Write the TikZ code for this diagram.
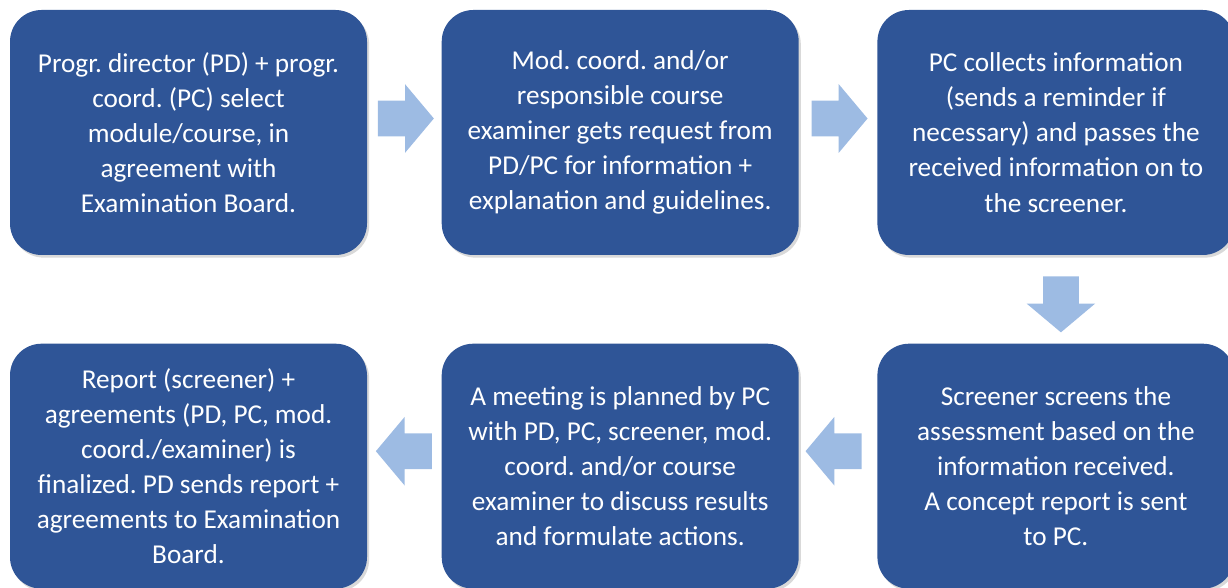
\documentclass[tikz,border=0pt]{standalone}
\usepackage{fontspec}
\setmainfont{Carlito}
\usepackage{xcolor}
\usetikzlibrary{positioning,calc,shapes.arrows,shadows}
\definecolor{boxblue}{RGB}{47,85,151}
\definecolor{arrblue}{RGB}{157,187,227}
\frenchspacing
\tikzset{
  stepbox/.style={draw=none, fill=boxblue, rounded corners=18pt, text=white, align=center,
    minimum width=7.14cm, minimum height=4.9cm, inner sep=0pt,
    font=\fontsize{15.5pt}{20pt}\selectfont,
    drop shadow={shadow xshift=1.2pt, shadow yshift=-1.5pt, opacity=0.3}},
  blockarr/.style={single arrow, draw=none, fill=arrblue, inner xsep=0pt, inner ysep=0.35cm,
    minimum height=1.12cm,
    single arrow head extend=0.33cm, single arrow tip angle=100},
}
\begin{document}
\begin{tikzpicture}
\useasboundingbox (0,0) rectangle (24.56,-11.76);
% upper row
\node[stepbox] (s1) at (3.77,-2.65) {Progr. director (PD) + progr.\\coord. (PC) select\\module/course, in\\agreement with\\Examination Board.};
\node[stepbox, right=1.48cm of s1] (s2) {Mod. coord. and/or\\responsible course\\examiner gets request from\\PD/PC for information +\\explanation and guidelines.};
\node[stepbox, right=1.56cm of s2] (s3) {PC collects information\\(sends a reminder if\\necessary) and passes the\\received information on to\\the screener.};
% lower row
\node[stepbox, below=1.76cm of s3] (s4) {Screener screens the\\assessment based on the\\information received.\\A concept report is sent\\to PC.};
\node[stepbox, left=1.56cm of s4] (s5) {A meeting is planned by PC\\with PD, PC, screener, mod.\\coord. and/or course\\examiner to discuss results\\and formulate actions.};
\node[stepbox, left=1.48cm of s5] (s6) {Report (screener) +\\agreements (PD, PC, mod.\\coord./examiner) is\\finalized. PD sends report +\\agreements to Examination\\Board.};
% block arrows
\node[blockarr] (a1) at ($(s1.east)!0.5!(s2.west)+(-0.12,0.28)$) {};
\node[blockarr] (a2) at ($(s2.east)!0.5!(s3.west)+(-0.12,0.28)$) {};
\node[blockarr, shape border rotate=270, inner xsep=0.35cm, inner ysep=0pt] (a3) at ($(s3.south)!0.5!(s4.north)+(0.1,0.05)$) {};
\node[blockarr, shape border rotate=180] (a4) at ($(s4.west)!0.5!(s5.east)+(0.06,0.3)$) {};
\node[blockarr, shape border rotate=180] (a5) at ($(s5.west)!0.5!(s6.east)+(0.14,0.3)$) {};
\end{tikzpicture}
\end{document}
